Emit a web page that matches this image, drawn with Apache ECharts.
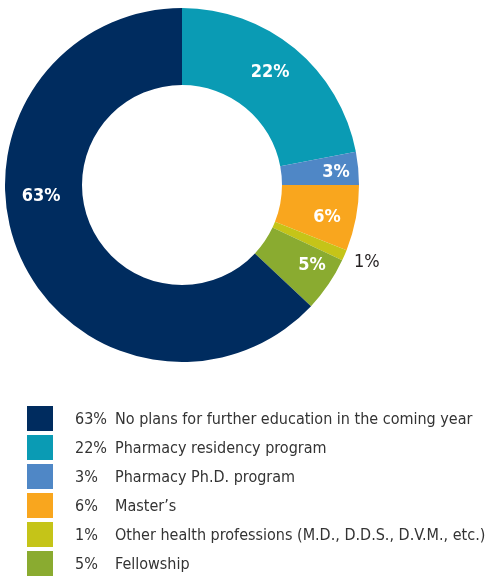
<!DOCTYPE html>
<html>
<head>
<meta charset="utf-8">
<script src="https://cdn.jsdelivr.net/npm/echarts@6/dist/echarts.min.js"></script>
<style>
  html, body { margin: 0; padding: 0; background: #fff; }
  #chart { width: 488px; height: 577px; }
</style>
</head>
<body>
<div id="chart"></div>
<script>
// data, in clockwise order from the top
var names = [
    'Pharmacy residency program',
    'Pharmacy Ph.D. program',
    'Master\u2019s',
    'Other health professions (M.D., D.D.S., D.V.M., etc.)',
    'Fellowship',
    'No plans for further education in the coming year'
];
var values = [22, 3, 6, 1, 5, 63];
var colors = ['#0a9bb4', '#4f87c6', '#f9a61e', '#c5c418', '#8aab30', '#002c5f'];
// legend lists the biggest one first
var legendOrder = [5, 0, 1, 2, 3, 4];

var font = '"DejaVu Sans Condensed", "DejaVu Sans", sans-serif';

var myChart = echarts.init(document.getElementById('chart'));

// nudges so labels sit where the original has them
var labelShift = [[-2, -4], [13, 1], [6, 6], [55, 21], [13, 1], [-11, -45]];

var seriesData = names.map(function (n, i) {
    var item = { name: n, value: values[i], itemStyle: { color: colors[i] } };
    if (values[i] === 1) {
        item.label = { color: '#231f20', fontWeight: 'normal' };
    }
    return item;
});

var option = {
    animation: false,
    legend: {
        orient: 'vertical',
        left: 27,
        top: 406,
        padding: 0,
        itemWidth: 26,
        itemHeight: 25,
        itemGap: 4,
        icon: 'rect',
        selectedMode: false,
        data: legendOrder.map(function (i) { return names[i]; }),
        formatter: function (name) {
            var v = values[names.indexOf(name)];
            return '{p|' + v + '%}{n|' + name + '}';
        },
        textStyle: {
            fontFamily: font,
            fontSize: 16,
            color: '#333',
            padding: [2, 0, 0, 17],
            rich: {
                p: { width: 40, fontFamily: font, fontSize: 16, color: '#333' },
                n: { fontFamily: font, fontSize: 16, color: '#333' }
            }
        }
    },
    series: [
        {
            type: 'pie',
            center: [182, 185],
            radius: [100, 177],
            startAngle: 90,
            clockwise: true,
            avoidLabelOverlap: false,
            label: {
                show: true,
                position: 'inside',
                formatter: '{c}%',
                color: '#fff',
                fontFamily: font,
                fontSize: 18,
                fontWeight: 'bold'
            },
            labelLine: { show: false },
            labelLayout: function (params) {
                var s = labelShift[params.dataIndex];
                return { dx: s[0], dy: s[1] };
            },
            emphasis: { disabled: true },
            data: seriesData
        }
    ]
};

myChart.setOption(option);
</script>
</body>
</html>
